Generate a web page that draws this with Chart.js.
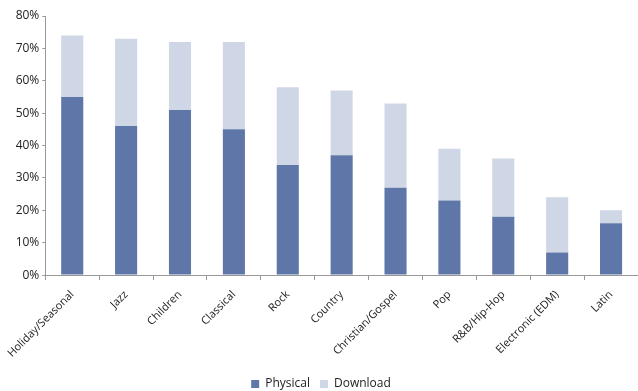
<!DOCTYPE html>
<html>
<head>
<meta charset="utf-8">
<script src="https://cdn.jsdelivr.net/npm/chart.js@4/dist/chart.umd.min.js"></script>
<style>
  html, body { margin: 0; padding: 0; background: #fff; }
  #wrap { width: 638px; height: 391px; }
</style>
</head>
<body>
<div id="wrap"><canvas id="myChart"></canvas></div>
<script>
const genres = ['Holiday/Seasonal', 'Jazz', 'Children', 'Classical', 'Rock', 'Country',
  'Christian/Gospel', 'Pop', 'R&B/Hip-Hop', 'Electronic (EDM)', 'Latin']
const physical = [55, 46, 51, 45, 34, 37, 27, 23, 18, 7, 16]
const download = [19, 27, 21, 27, 24, 20, 26, 16, 18, 17, 4]

Chart.defaults.font.family = 'Open Sans, Liberation Sans, sans-serif'
Chart.defaults.font.size = 11
Chart.defaults.color = '#222'

new Chart(document.getElementById('myChart').getContext('2d'), {
  type: 'bar',
  data: {
    labels: genres,
    datasets: [
      { label: 'Physical', data: physical, backgroundColor: '#5e77a8', borderWidth: 0 },
      { label: 'Download', data: download, backgroundColor: '#cfd7e6', borderWidth: 0 }
    ]
  },
  options: {
    responsive: true,
    maintainAspectRatio: false,
    animation: false,
    layout: { padding: { top: 16, right: 0, left: 4, bottom: -9 } },
    datasets: { bar: { barPercentage: 0.41, categoryPercentage: 1 } },
    plugins: {
      legend: {
        position: 'bottom',
        labels: { boxWidth: 8, boxHeight: 8, padding: 10, font: { size: 12 } }
      },
      tooltip: { enabled: false }
    },
    scales: {
      x: {
        stacked: true,
        grid: { offset: true, drawOnChartArea: false, color: '#999', tickLength: 5 },
        border: { color: '#999' },
        ticks: { minRotation: 45, maxRotation: 45, padding: 8, font: { size: 11 } }
      },
      y: {
        stacked: true,
        min: 0,
        max: 80,
        grid: { drawOnChartArea: false, color: '#999', tickLength: 3 },
        border: { color: '#999' },
        ticks: { stepSize: 10, callback: v => v + '%', padding: 3, font: { size: 12 } }
      }
    }
  }
})
</script>
</body>
</html>
